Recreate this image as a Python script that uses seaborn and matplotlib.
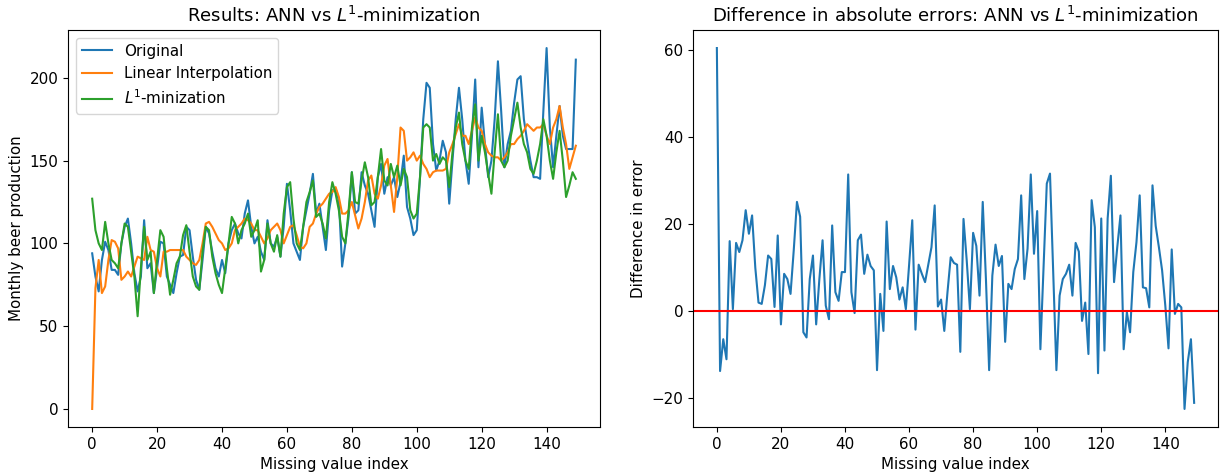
import numpy as np
import pandas as pd
import matplotlib
matplotlib.use("Agg")
import matplotlib.pyplot as plt
import seaborn as sns

original = [94, 80, 71, 90, 101, 96, 84, 84, 81, 100,
            110, 115, 100, 82, 71, 80, 114, 85, 88, 70,
            85, 101, 100, 80, 75, 70, 82, 92, 93, 110,
            108, 92, 78, 72, 90, 110, 106, 95, 85, 80,
            90, 82, 100, 108, 112, 106, 103, 118, 126, 110,
            100, 104, 95, 90, 114, 100, 98, 104, 92, 110,
            136, 120, 100, 95, 90, 110, 120, 130, 142, 118,
            124, 110, 96, 120, 132, 133, 126, 86, 100, 116,
            143, 118, 120, 143, 135, 130, 120, 110, 140, 148,
            130, 140, 135, 140, 128, 137, 153, 122, 115, 105,
            108, 140, 175, 197, 194, 160, 144, 150, 162, 155,
            124, 150, 175, 194, 175, 150, 136, 165, 199, 146,
            182, 160, 140, 150, 175, 210, 180, 146, 160, 168,
            185, 199, 201, 175, 162, 150, 140, 140, 139, 180,
            218, 170, 146, 165, 183, 165, 157, 157, 157, 211]

linear = [0, 73, 90, 70, 74, 90, 102, 101, 97, 78,
          80, 83, 80, 86, 92, 91, 90, 104, 96, 95,
          85, 80, 95, 95, 96, 96, 96, 96, 96, 92,
          90, 88, 87, 90, 100, 112, 113, 110, 106, 102,
          100, 96, 97, 100, 108, 110, 112, 115, 114, 112,
          108, 108, 104, 100, 103, 108, 110, 112, 108, 100,
          105, 110, 111, 105, 98, 97, 100, 110, 112, 118,
          122, 124, 127, 130, 131, 134, 128, 118, 118, 120,
          125, 117, 109, 115, 125, 138, 141, 130, 127, 135,
          147, 151, 135, 119, 140, 170, 168, 150, 152, 155,
          150, 153, 148, 145, 140, 143, 144, 144, 144, 145,
          155, 160, 166, 172, 165, 165, 160, 168, 176, 170,
          168, 160, 155, 153, 152, 152, 150, 152, 155, 160,
          160, 163, 165, 168, 172, 170, 168, 170, 170, 172,
          165, 160, 170, 175, 183, 170, 160, 145, 152, 159]

l1_min = [127, 108, 100, 96, 113, 100, 90, 88, 85, 100,
          112, 110, 95, 80, 56, 85, 110, 90, 95, 70,
          90, 108, 104, 85, 69, 78, 88, 92, 105, 111,
          95, 80, 74, 72, 95, 110, 108, 92, 82, 75,
          70, 85, 100, 116, 112, 100, 108, 112, 118, 104,
          108, 114, 83, 90, 112, 100, 95, 105, 92, 118,
          134, 137, 115, 100, 96, 110, 125, 131, 138, 116,
          118, 112, 103, 125, 137, 130, 120, 104, 100, 120,
          143, 125, 124, 138, 149, 140, 123, 125, 140, 157,
          138, 135, 148, 140, 147, 135, 145, 140, 120, 115,
          118, 140, 170, 172, 170, 150, 154, 148, 152, 150,
          134, 155, 170, 179, 160, 150, 145, 170, 184, 150,
          165, 155, 142, 130, 155, 178, 150, 146, 150, 165,
          175, 185, 170, 160, 155, 145, 142, 150, 160, 175,
          165, 150, 139, 155, 168, 150, 128, 135, 143, 139]

error_diff = [60.4, -13.7, -6.4, -11, 16.1, 0.5, 15.7, 13.6, 16.3, 23.2,
              17.8, 22, 10, 2, 1.7, 6, 12.8, 12, 1, 17.4,
              -3, 8.6, 7.4, 4, 14, 25.1, 21.7, -4.8, -6, 7.4,
              12.8, -3, 7.4, 16.3, 1.3, -1.8, 19.7, 4.4, 2.4, 9,
              9, 31.4, 4.4, -0.4, 16.3, 17.6, 8.6, 13, 10.4, 9.4,
              -13.5, 4, -4.5, 20.6, 5.1, 10.4, 7.8, 2.7, 5.5, 0.5,
              10.5, 20.9, -4.2, 10.7, 8.6, 6.7, 10.7, 14.7, 24.3, 1.1,
              2.7, -4.5, 4.4, 12.4, 11.1, 10.7, -9.3, 21.2, 11.7, 0.5,
              18, 15, 3.6, 25.1, 7.4, -13.5, 8.2, 15.3, 10.4, 12.7,
              -7, 6.3, 5.1, 9.7, 12, 26.6, 7.4, 14.4, 31.4, 13.2,
              23, -8.7, 10.5, 29.3, 31.6, 9, -13.5, 3.6, 7.4, 8.6,
              10.7, 3.6, 15.7, 13.7, -2.2, 2, -9.8, 25.5, 19.3, -14.2,
              21.3, -9, 21.3, 31.1, 6.7, 14.7, 22, -8.7, -0.2, -4.8,
              9, 15.9, 26.6, 5.5, 5.3, 0.9, 28.9, 19.6, 14.7, 9.4,
              1.3, -8.5, 14.2, -0.6, 1.7, 0.9, -22.4, -11.7, -6.4, -21]

idx = np.arange(len(original))
df = pd.DataFrame({"idx": idx, "Original": original,
                   "Linear Interpolation": linear, "L1": l1_min,
                   "diff": error_diff})

plt.rcParams["font.size"] = 10.9

fig = plt.figure(figsize=(12.2, 4.73), dpi=100)
ax1 = fig.add_axes([68/1220, 46/473, 532/1220, 397/473])
ax2 = fig.add_axes([693/1220, 46/473, 525/1220, 397/473])

sns.lineplot(x="idx", y="Original", data=df, ax=ax1, color="C0", label="Original")
sns.lineplot(x="idx", y="Linear Interpolation", data=df, ax=ax1, color="C1",
             label="Linear Interpolation")
sns.lineplot(x="idx", y="L1", data=df, ax=ax1, color="C2", label="$L^1$-minization")
ax1.set_title("Results: ANN vs $L^1$-minimization")
ax1.set_xlabel("Missing value index")
ax1.set_ylabel("Monthly beer production")
ax1.legend(loc="upper left")

sns.lineplot(x="idx", y="diff", data=df, ax=ax2, color="C0")
ax2.axhline(0, color="red")
ax2.set_title("Difference in absolute errors: ANN vs $L^1$-minimization")
ax2.set_xlabel("Missing value index")
ax2.set_ylabel("Difference in error")

fig.savefig("out.png", dpi=100)
